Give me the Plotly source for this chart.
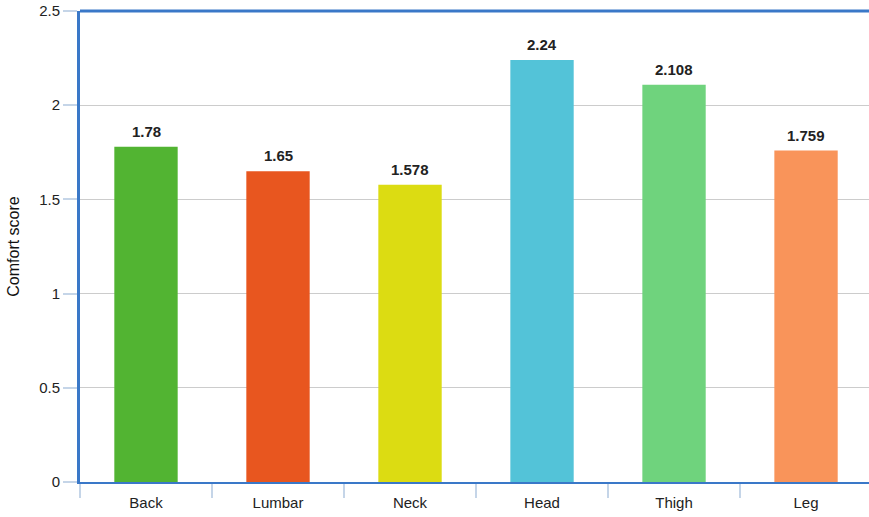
import plotly.graph_objects as go

# Comfort score by body region
regions = ["Back", "Lumbar", "Neck", "Head", "Thigh", "Leg"]
scores = [1.78, 1.65, 1.578, 2.24, 2.108, 1.759]
bar_colors = ["#52b432", "#e8561f", "#dcdc12", "#53c3d8", "#6fd37d", "#f9945a"]
y_ticks = [0, 0.5, 1, 1.5, 2, 2.5]

AXIS_BLUE = "#3a78c8"
TICK_BLUE = "#c5d5e8"
FONT = "Liberation Sans, Arial, sans-serif"

fig = go.Figure(
    go.Bar(
        x=regions,
        y=scores,
        marker=dict(color=bar_colors, line=dict(width=0)),
        width=0.48,
        hoverinfo="x+y",
    )
)

# value labels above each bar
for r, v in zip(regions, scores):
    fig.add_annotation(
        x=r, y=v, text=f"<b>{v}</b>", showarrow=False,
        yanchor="bottom", yshift=5,
        font=dict(family=FONT, size=15, color="#222"),
    )

# heavy top border of the plotting area
fig.add_shape(
    type="line", xref="paper", yref="paper", x0=0, x1=1, y0=1, y1=1,
    line=dict(color=AXIS_BLUE, width=3),
)

fig.update_layout(
    width=869, height=517,
    margin=dict(l=80, r=0, t=11, b=35),
    paper_bgcolor="white", plot_bgcolor="white",
    font=dict(family=FONT, size=15, color="#222"),
    showlegend=False,
    bargap=0.52,
    xaxis=dict(
        range=[-0.5, 5.477],
        tickson="boundaries",
        ticks="outside", ticklen=14, tickcolor=TICK_BLUE, tickwidth=1.5,
        ticklabelstandoff=6,
        showline=True, linecolor=AXIS_BLUE, linewidth=1.5,
        showgrid=False, zeroline=False,
        tickfont=dict(family=FONT, size=15, color="#222"),
    ),
    yaxis=dict(
        range=[0, 2.5],
        tickvals=y_ticks,
        ticktext=[f"{t:g}" for t in y_ticks],
        ticks="outside", ticklen=14, tickcolor=TICK_BLUE, tickwidth=1.5,
        showline=True, linecolor=AXIS_BLUE, linewidth=3,
        showgrid=True, gridcolor="#cccccc", gridwidth=1,
        zeroline=False,
        tickfont=dict(family=FONT, size=15, color="#222"),
        title=dict(text="Comfort score", font=dict(family=FONT, size=16, color="#111"), standoff=16),
    ),
)

fig.write_html("out.html")
